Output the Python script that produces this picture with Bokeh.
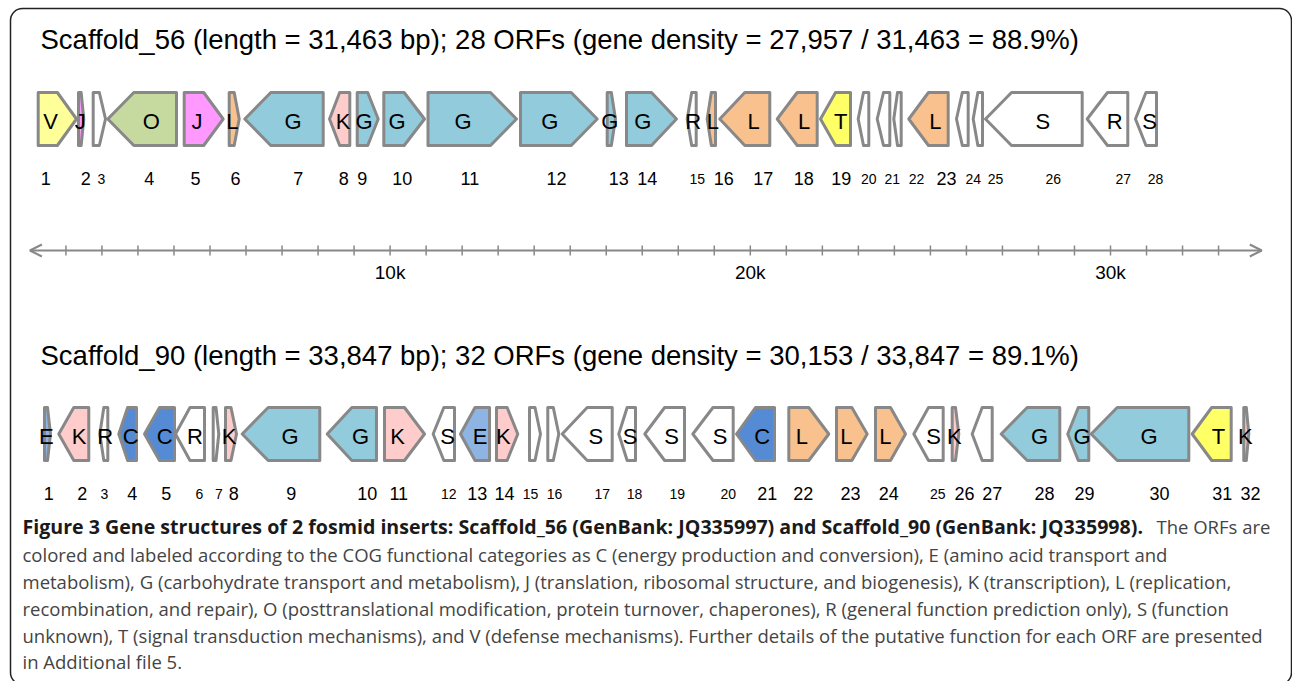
from bokeh.plotting import figure
from bokeh.models import Range1d, Arrow, OpenHead, BoxAnnotation, ColumnDataSource
from bokeh.core.properties import value
from bokeh.embed import file_html
from bokeh.resources import INLINE

# ---------------- data ----------------
S56_TITLE = "Scaffold_56 (length = 31,463 bp); 28 ORFs (gene density = 27,957 / 31,463 = 88.9%)"
S56_CAT = ["V", "J", "", "O", "J", "L", "G", "K", "G", "G", "G", "G", "G", "G", "R", "L", "L", "L", "T",
           "", "", "", "L", "", "", "S", "R", "S"]
S56_START = [230, 1349, 1757, 2163, 4284, 5533, 5966, 8318, 9087, 9825, 11052, 13620, 16027, 16563,
             18248, 18803, 19153, 20747, 21949, 22995, 23523, 23984, 24400, 25724, 26188, 26530, 29353, 30693]
S56_END = [1294, 1496, 2099, 4070, 5366, 5811, 8143, 8881, 9670, 10955, 13509, 15750, 16257, 17951,
           18498, 19034, 20541, 21857, 22782, 23290, 23873, 24189, 25494, 26049, 26446, 29214, 30480, 31277]
S56_STRAND = [1, 1, 1, -1, 1, 1, -1, -1, 1, 1, 1, 1, 1, 1, -1, -1, -1, -1, -1, -1, -1, -1, -1, -1, -1, -1, -1, -1]
S56_NUM_POS = [441, 1552, 1988, 3312, 4597, 5708, 7449, 8715, 9225, 10336, 12213, 14620, 16349, 17138,
               18525, 19264, 20358, 21485, 22523, 23289, 23939, 24614, 25447, 26188, 26807, 28409, 30352, 31249]
S56_SMALL = [3, 15, 20, 21, 22, 24, 25, 26, 27, 28]

S90_TITLE = "Scaffold_90 (length = 33,847 bp); 32 ORFs (gene density = 30,153 / 33,847 = 89.1%)"
S90_CAT = ["E", "K", "R", "C", "C", "R", "", "K", "G", "G", "K", "S", "E", "K", "", "", "S", "S", "S", "S",
           "C", "L", "L", "L", "S", "K", "", "G", "G", "G", "T", "K"]
S90_START = [405, 802, 1941, 2468, 3182, 4042, 5089, 5430, 5894, 8254, 9844, 11196, 11954, 12954, 13870,
             14378, 14778, 16349, 17071, 18404, 19617, 21069, 22393, 23476, 24539, 25605, 26160, 26965,
             28813, 29464, 32268, 33700]
S90_END = [572, 1635, 2163, 2959, 4014, 4847, 5244, 5736, 8048, 9622, 10955, 11788, 12760, 13545, 14175,
           14683, 16166, 16813, 18173, 19525, 20672, 22179, 23245, 24309, 25355, 25788, 26716, 28592,
           29397, 32174, 33351, 33840]
S90_STRAND = [1, -1, -1, -1, -1, -1, 1, 1, -1, -1, 1, -1, -1, 1, 1, 1, -1, -1, -1, -1, -1, 1, 1, 1, -1, 1,
              -1, -1, -1, -1, -1, 1]
S90_NUM_POS = [525, 1452, 2071, 2840, 3784, 4708, 5244, 5661, 7254, 9364, 10241, 11630, 12418, 13176, 13898,
               14564, 15888, 16785, 17970, 19386, 20469, 21468, 22781, 23845, 25205, 25946, 26715, 28167,
               29278, 31360, 33101, 33886]
S90_SMALL = [3, 6, 7, 12, 15, 16, 17, 18, 19, 20, 25]

AXIS_TICKS = [k * 1000 for k in range(1, 34)]
AXIS_LABEL_POS = [10000, 20000, 30000]
AXIS_LABELS = ["10k", "20k", "30k"]
AXIS_END = 34200

COG_COLORS = {"V": "#FFFF99", "J": "#FF99FF", "O": "#C6D99E", "L": "#F9C18E", "G": "#92CBDB",
              "K": "#FFCCCC", "T": "#FFFF66", "C": "#558AD5", "E": "#8EB4E3", "R": "#FFFFFF",
              "S": "#FFFFFF", "": "#FFFFFF"}

CAPTION_BOLD = ("Figure 3 Gene structures of 2 fosmid inserts: Scaffold_56 (GenBank: JQ335997) "
                "and Scaffold_90 (GenBank: JQ335998).")
CAPTION_LINES = [
    "The ORFs are",
    "colored and labeled according to the COG functional categories as C (energy production and conversion), E (amino acid transport and",
    "metabolism), G (carbohydrate transport and metabolism), J (translation, ribosomal structure, and biogenesis), K (transcription), L (replication,",
    "recombination, and repair), O (posttranslational modification, protein turnover, chaperones), R (general function prediction only), S (function",
    "unknown), T (signal transduction mechanisms), and V (defense mechanisms). Further details of the putative function for each ORF are presented",
    "in Additional file 5.",
]

# ---------------- layout helpers ----------------
PX0 = 29.4
PX_PER_KB = 36.02


def px2bp(px):
    return (px - PX0) / PX_PER_KB * 1000.0


HEAD_BP = 26 / PX_PER_KB * 1000.0
FONT = "Liberation Sans"

p = figure(width=1292, height=681, x_range=Range1d(px2bp(0), px2bp(1292)), y_range=Range1d(681, 0),
           output_backend="svg", toolbar_location=None, min_border=0,
           x_axis_location=None, y_axis_location=None)
p.outline_line_color = None
p.background_fill_color = "white"
p.border_fill_color = "white"
p.xgrid.visible = False
p.ygrid.visible = False

# frame border
p.add_layout(BoxAnnotation(left=px2bp(10), right=px2bp(1291), top=8, bottom=684,
                           fill_alpha=0, line_color="#222222", line_alpha=1.0, line_width=1.5,
                           border_radius=12))


def draw_track(title, cats, starts, ends, strands, num_pos, small, top, bot, title_y, num_y):
    mid = (top + bot) / 2.0
    xs, ys, cols, lx = [], [], [], []
    for s, e, st, c in zip(starts, ends, strands, cats):
        head = min(HEAD_BP, 0.5 * (e - s))
        if st > 0:
            xs.append([s, e - head, e, e - head, s])
            lx.append((s + e) / 2.0 - 0.35 * head)
        else:
            xs.append([e, s + head, s, s + head, e])
            lx.append((s + e) / 2.0 + 0.35 * head)
        ys.append([top, top, mid, bot, bot])
        cols.append(COG_COLORS[c])
    p.patches(xs=xs, ys=ys, fill_color=cols, line_color="#888888", line_width=3, line_join="round")
    p.text(x=lx, y=[mid + 2.5] * len(lx), text=cats, text_font=value(FONT), text_font_size="22px",
           text_align="center", text_baseline="middle", text_color="black")
    nums = [str(i + 1) for i in range(len(cats))]
    sizes = ["14px" if (i + 1) in small else "18px" for i in range(len(cats))]
    src = ColumnDataSource(dict(x=num_pos, y=[num_y] * len(nums), t=nums, s=sizes))
    p.text(x="x", y="y", text="t", text_font_size="s", source=src, text_font=value(FONT),
           text_align="center", text_baseline="middle", text_color="black")
    p.text(x=[px2bp(40)], y=[title_y], text=[title], text_font=value(FONT), text_font_size="27.5px",
           text_align="left", text_baseline="middle", text_color="black")


draw_track(S56_TITLE, S56_CAT, S56_START, S56_END, S56_STRAND, S56_NUM_POS, S56_SMALL,
           92, 145, 39, 178)
draw_track(S90_TITLE, S90_CAT, S90_START, S90_END, S90_STRAND, S90_NUM_POS, S90_SMALL,
           407, 460, 355, 493)

# scale axis
AXIS_Y = 250
p.add_layout(Arrow(x_start=0, y_start=AXIS_Y, x_end=AXIS_END, y_end=AXIS_Y,
                   line_color="#888888", line_width=2,
                   start=OpenHead(size=12, line_color="#888888", line_width=2),
                   end=OpenHead(size=12, line_color="#888888", line_width=2)))
p.segment(x0=AXIS_TICKS, y0=[AXIS_Y - 5] * len(AXIS_TICKS), x1=AXIS_TICKS, y1=[AXIS_Y + 5] * len(AXIS_TICKS),
          line_color="#888888", line_width=1.5)
p.text(x=AXIS_LABEL_POS, y=[272] * 3, text=AXIS_LABELS, text_font=value(FONT), text_font_size="19px",
       text_align="center", text_baseline="middle", text_color="black")

# caption
CAP_FONT = "Open Sans"
CAP_Y = [526, 553.5, 580.5, 607.5, 634.5, 661]
p.text(x=[px2bp(22)], y=[CAP_Y[0]], text=[CAPTION_BOLD], text_font=value(CAP_FONT), text_font_size="19.6px",
       text_font_style="bold", text_align="left", text_baseline="middle", text_color="#1a1a1a")
p.text(x=[px2bp(1156)] + [px2bp(22)] * 5, y=CAP_Y, text=CAPTION_LINES, text_font=value(CAP_FONT),
       text_font_size="18.5px", text_align="left", text_baseline="middle", text_color="#444444")

open("out.html", "w").write(file_html(p, INLINE))
